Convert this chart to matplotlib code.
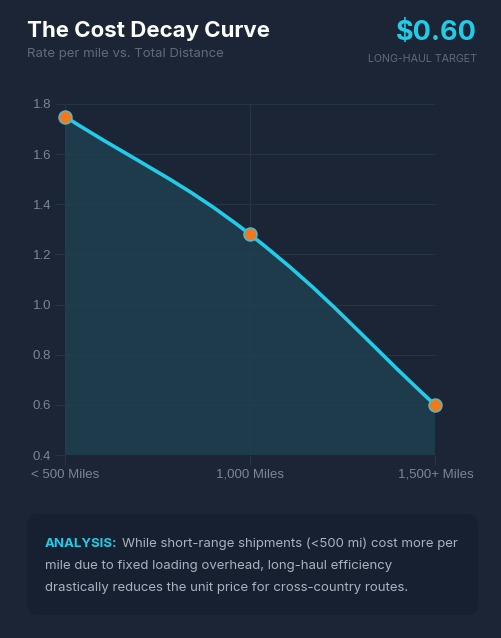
import numpy as np
import matplotlib.pyplot as plt
from matplotlib.path import Path
from matplotlib.patches import PathPatch, FancyBboxPatch
from matplotlib.transforms import offset_copy

categories = ['< 500 Miles', '1,000 Miles', '1,500+ Miles']
rates = [1.75, 1.28, 0.60]
y_ticks = [0.4, 0.6, 0.8, 1.0, 1.2, 1.4, 1.6, 1.8]

bg = '#1c2536'
cyan = '#22cbe6'
grid_c = '#263446'
tick_c = '#7a8596'

W, H = 501, 638
fig = plt.figure(figsize=(W / 100, H / 100), dpi=100, facecolor=bg)

# plot area in pixels: left 65, right 435, top 104, bottom 455
ax = fig.add_axes([65 / W, 1 - 455 / H, 370 / W, 351 / H])
ax.set_facecolor(bg)
ax.set_xlim(0, len(categories) - 1)
ax.set_ylim(0.4, 1.8)

xs = np.arange(len(categories), dtype=float)
ys = np.array(rates)

# smooth curve like chart.js tension 0.4, computed in pixel space
sx = 370 / (len(categories) - 1)
sy = 351 / 1.4
px = xs * sx
py = ys * sy
t = 0.4
verts = [(xs[0], ys[0])]
codes = [Path.MOVETO]
cps = []
for i in range(len(xs)):
    pi = np.array([px[i], py[i]])
    pp = np.array([px[max(i - 1, 0)], py[max(i - 1, 0)]])
    pn = np.array([px[min(i + 1, len(xs) - 1)], py[min(i + 1, len(xs) - 1)]])
    d01 = np.hypot(*(pi - pp))
    d12 = np.hypot(*(pn - pi))
    tot = d01 + d12
    c_prev = pi - t * (d01 / tot) * (pn - pp)
    c_next = pi + t * (d12 / tot) * (pn - pp)
    cps.append((c_prev, c_next))
for i in range(len(xs) - 1):
    a = cps[i][1]
    b = cps[i + 1][0]
    verts += [(a[0] / sx, a[1] / sy), (b[0] / sx, b[1] / sy), (xs[i + 1], ys[i + 1])]
    codes += [Path.CURVE4] * 3

line_path = Path(verts, codes)
fill_verts = verts + [(xs[-1], 0.4), (xs[0], 0.4), (xs[0], ys[0])]
fill_codes = codes + [Path.LINETO, Path.LINETO, Path.CLOSEPOLY]
ax.add_patch(PathPatch(Path(fill_verts, fill_codes), facecolor='#1f4050',
                       edgecolor='none', alpha=0.85, zorder=1))
ax.add_patch(PathPatch(line_path, facecolor='none', edgecolor=cyan,
                       linewidth=2.6, capstyle='round', zorder=3))
ax.scatter(xs, ys, s=85, color='#f07a1a', edgecolors='#5fb3c0',
           linewidths=1.2, zorder=4, clip_on=False)

ax.set_xticks(xs)
ax.set_xticklabels(categories)
ax.set_yticks(y_ticks)
ax.set_yticklabels([f'{v:.1f}' for v in y_ticks])
ax.grid(True, color=grid_c, linewidth=0.8)
ax.set_axisbelow(True)
for s in ax.spines.values():
    s.set_visible(False)
ax.tick_params(colors=grid_c, labelcolor=tick_c, labelsize=9.5, length=7, width=0.8)
ax.tick_params(axis='x', pad=3)
ax.tick_params(axis='y', pad=3)
for lab in ax.get_xticklabels() + ax.get_yticklabels():
    lab.set_fontfamily('Liberation Sans')
xl = ax.get_xticklabels()
xl[0].set_ha('left')
xl[-1].set_ha('right')
xl[0].set_transform(offset_copy(xl[0].get_transform(), fig=fig, x=-34, units='dots'))
xl[-1].set_transform(offset_copy(xl[-1].get_transform(), fig=fig, x=39, units='dots'))

# header
fig.text(27 / W, 1 - 31 / H, 'The Cost Decay Curve', color='white', fontsize=16,
         fontweight='bold', family='Inter', va='center', ha='left')
fig.text(27 / W, 1 - 54 / H, 'Rate per mile vs. Total Distance', color='#5f6b7d',
         fontsize=9.5, family='Inter', va='center', ha='left')
fig.text(477 / W, 1 - 33 / H, '$0.60', color=cyan, fontsize=19.5,
         fontweight='bold', family='Inter', va='center', ha='right')
fig.text(477 / W, 1 - 59 / H, 'LONG-HAUL TARGET', color='#5f6b7d',
         fontsize=7.7, family='Inter', va='center', ha='right')

# analysis box
box = FancyBboxPatch((27 / W, 1 - 615 / H), 451 / W, 101 / H,
                     boxstyle='round,pad=0,rounding_size=0.02',
                     transform=fig.transFigure, facecolor='#172031',
                     edgecolor='none', zorder=0)
fig.patches.append(box)
t1 = fig.text(45 / W, 1 - 544 / H, 'ANALYSIS:', color=cyan, fontsize=9.5,
              fontweight='bold', family='Inter', va='center', ha='left')
fig.canvas.draw()
bb = t1.get_window_extent()
body_c = '#aab2be'
fig.text((bb.x1 + 4) / W, 1 - 544 / H,
         'While short-range shipments (<500 mi) cost more per',
         color=body_c, fontsize=9.5, family='Inter', va='center', ha='left')
fig.text(45 / W, 1 - 566 / H, 'mile due to fixed loading overhead, long-haul efficiency',
         color=body_c, fontsize=9.5, family='Inter', va='center', ha='left')
fig.text(45 / W, 1 - 588 / H, 'drastically reduces the unit price for cross-country routes.',
         color=body_c, fontsize=9.5, family='Inter', va='center', ha='left')

fig.savefig('out.png', dpi=100, facecolor=bg)
